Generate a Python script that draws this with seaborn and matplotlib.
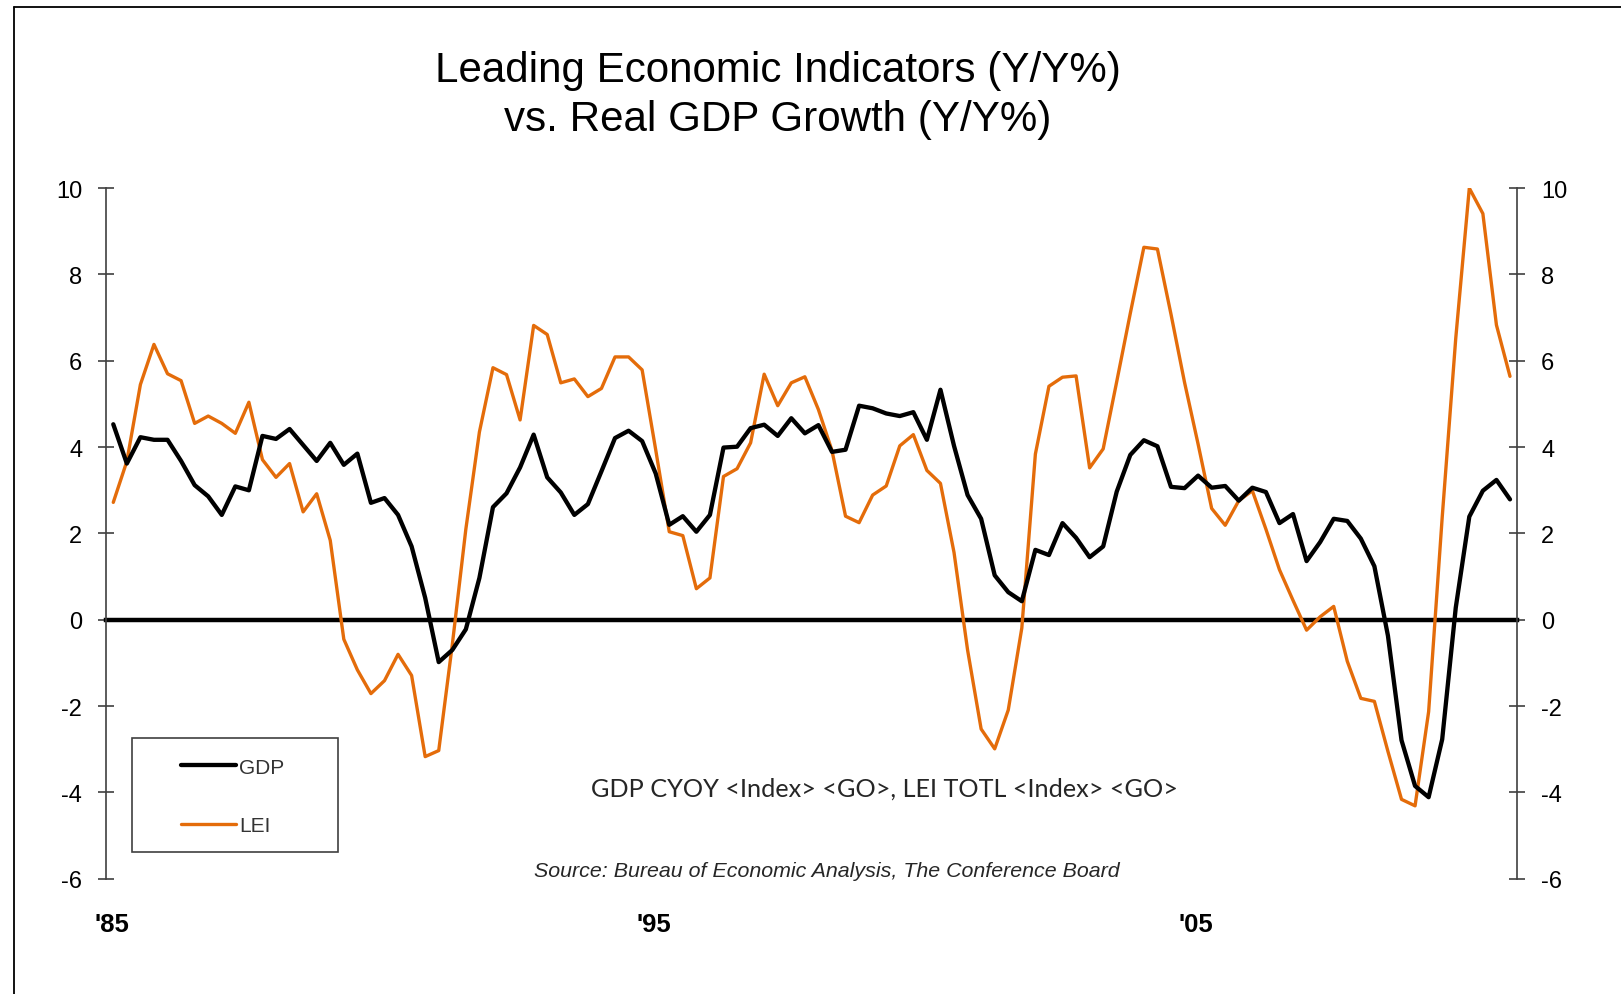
import numpy as np
import pandas as pd
import matplotlib
import matplotlib.pyplot as plt
from matplotlib.lines import Line2D
from matplotlib.patches import Rectangle
from matplotlib.transforms import ScaledTranslation
import seaborn as sns

matplotlib.use('Agg')

# quarterly, 1985Q1 .. 2010Q4 (Y/Y %)
start_year = 1985
gdp = [4.53, 3.62, 4.23, 4.17, 4.17, 3.68, 3.12, 2.86, 2.43, 3.09, 3.00, 4.26,
       4.19, 4.42, 4.05, 3.68, 4.10, 3.59, 3.85, 2.71, 2.82, 2.43, 1.70, 0.51,
       -0.98, -0.70, -0.22, 0.97, 2.61, 2.93, 3.53, 4.29, 3.30, 2.95, 2.43, 2.68,
       3.44, 4.21, 4.38, 4.14, 3.39, 2.20, 2.40, 2.04, 2.43, 3.99, 4.01, 4.44,
       4.52, 4.26, 4.67, 4.32, 4.51, 3.89, 3.94, 4.96, 4.90, 4.78, 4.72, 4.81,
       4.17, 5.33, 4.03, 2.89, 2.34, 1.03, 0.64, 0.43, 1.62, 1.50, 2.24, 1.90,
       1.45, 1.70, 2.97, 3.82, 4.16, 4.02, 3.08, 3.05, 3.34, 3.06, 3.10, 2.76,
       3.06, 2.96, 2.24, 2.45, 1.36, 1.80, 2.34, 2.29, 1.88, 1.24, -0.37, -2.79,
       -3.85, -4.11, -2.77, 0.28, 2.39, 2.99, 3.24, 2.79]
lei = [2.72, 3.67, 5.45, 6.38, 5.70, 5.54, 4.55, 4.72, 4.55, 4.32, 5.04, 3.71,
       3.30, 3.62, 2.50, 2.92, 1.84, -0.45, -1.16, -1.71, -1.41, -0.80, -1.29, -3.17,
       -3.03, -0.58, 2.10, 4.35, 5.84, 5.68, 4.63, 6.82, 6.61, 5.49, 5.58, 5.17,
       5.36, 6.09, 6.09, 5.79, 3.94, 2.04, 1.95, 0.72, 0.97, 3.32, 3.50, 4.10,
       5.69, 4.96, 5.49, 5.63, 4.87, 3.92, 2.40, 2.25, 2.89, 3.10, 4.03, 4.29,
       3.46, 3.16, 1.56, -0.70, -2.53, -2.99, -2.09, -0.19, 3.84, 5.41, 5.62, 5.65,
       3.52, 3.96, 5.52, 7.10, 8.63, 8.59, 7.08, 5.50, 4.07, 2.58, 2.19, 2.76,
       2.99, 2.10, 1.16, 0.45, -0.24, 0.07, 0.31, -0.96, -1.82, -1.89, -3.05, -4.16,
       -4.31, -2.13, 2.37, 6.52, 10.00, 9.41, 6.83, 5.64]

year_ticks = [1985, 1995, 2005]
year_labels = ["'85", "'95", "'05"]
y_ticks = [-6, -4, -2, 0, 2, 4, 6, 8, 10]

ORANGE = '#E46C0A'

# mid-quarter dates as fractional years
quarter = np.arange(len(gdp))
date = start_year + (quarter + 0.5) / 4
df = pd.DataFrame({'date': date, 'GDP': gdp, 'LEI': lei})

sns.set_style('white')
plt.rcParams['font.family'] = ['Liberation Sans', 'DejaVu Sans']
plt.rcParams['axes.unicode_minus'] = False
plt.rcParams['text.color'] = 'black'
plt.rcParams['xtick.labelcolor'] = 'black'
plt.rcParams['ytick.labelcolor'] = 'black'

fig = plt.figure(figsize=(16.21, 9.95), dpi=100)
ax = fig.add_axes([0.0657, 0.1158, 0.8700, 0.6941])

sns.lineplot(data=df, x='date', y='GDP', color='black', lw=3.1, label='GDP', ax=ax, zorder=4)
sns.lineplot(data=df, x='date', y='LEI', color=ORANGE, lw=2.4, label='LEI', ax=ax, zorder=3)

ax.set_xlim(1985, 2011)
ax.set_ylim(-6, 10)
ax.set_xlabel('')
ax.set_ylabel('')

# y axis on both sides, ticks crossing the spine
ax.set_yticks(y_ticks)
ax.tick_params(axis='y', direction='inout', length=11, width=1.2, color='#404040',
               left=True, right=True, labelleft=True, labelright=True,
               labelsize=17, pad=12, labelcolor='black')
for side in ['left', 'right']:
    ax.spines[side].set_color('#404040')
    ax.spines[side].set_linewidth(1.2)
ax.spines['top'].set_visible(False)

# zero line acts as x axis
ax.spines['bottom'].set_position(('data', 0))
ax.spines['bottom'].set_linewidth(3.2)
ax.spines['bottom'].set_color('black')
ax.spines['bottom'].set_zorder(2)
ax.set_xticks(year_ticks)
ax.tick_params(axis='x', direction='inout', length=11, width=3.4, color='black',
               labelbottom=False)

# year labels below the plot
sec = ax.secondary_xaxis('bottom')
sec.set_xticks(year_ticks, labels=year_labels)
sec.tick_params(length=0, pad=24, labelsize=18.5, labelcolor='black')
sec.spines['bottom'].set_visible(False)
for lab in sec.get_xticklabels():
    lab.set_fontweight('bold')
    lab.set_transform(lab.get_transform() + ScaledTranslation(5 / 100, 0, fig.dpi_scale_trans))

# legend with its own box
leg = ax.legend(loc='upper left', bbox_to_anchor=(181 / 1621, 0.2376),
                bbox_transform=fig.transFigure, frameon=False, borderpad=0,
                borderaxespad=0, handlelength=2.65, handletextpad=0.15,
                labelspacing=1.9, fontsize=15)
for t in leg.get_texts():
    t.set_color('#333333')
fig.add_artist(Rectangle((0.0812, 0.1430), 0.1271, 0.1143, transform=fig.transFigure,
                         fill=False, edgecolor='#404040', lw=1.2))

# titles and notes
fig.text(0.480, 0.9176, 'Leading Economic Indicators (Y/Y%)', ha='center',
         va='baseline', fontsize=30.3)
fig.text(0.480, 0.8683, 'vs. Real GDP Growth (Y/Y%)', ha='center',
         va='baseline', fontsize=30.3)
fig.text(884 / 1621, 1 - 789 / 995, 'GDP CYOY <Index> <GO>, LEI TOTL <Index> <GO>',
         ha='center', va='center', fontsize=18.2, color='#262626',
         family=['Lato', 'DejaVu Sans'])
fig.text(827 / 1621, 1 - 872 / 995,
         'Source: Bureau of Economic Analysis, The Conference Board',
         ha='center', va='center', fontsize=15.4, style='italic', color='#262626')

# outer frame (left and top edges)
fx = 13.5 / 1621
fy = 1 - 8.3 / 995
fig.add_artist(Line2D([fx, fx], [0, fy], transform=fig.transFigure, color='black', lw=1.3))
fig.add_artist(Line2D([fx, 1], [fy, fy], transform=fig.transFigure, color='black', lw=1.3))

fig.savefig('out.png', dpi=100)
plt.close(fig)
